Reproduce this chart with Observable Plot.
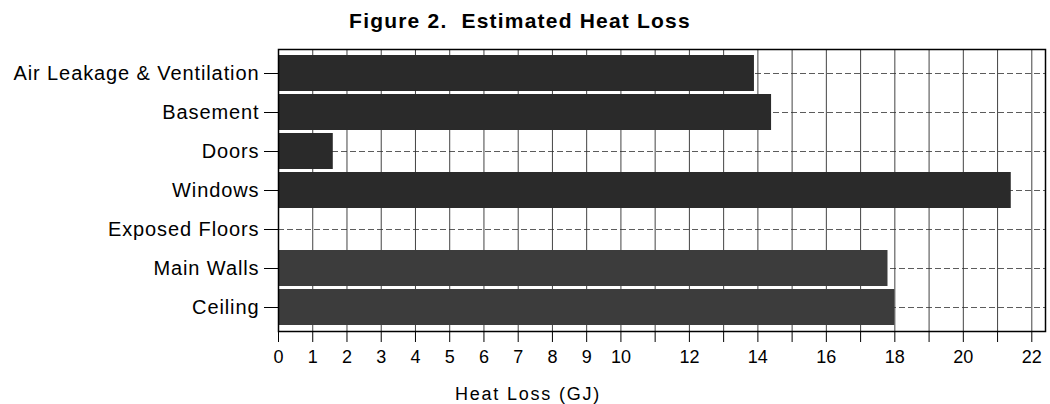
<!DOCTYPE html>
<html>
<head>
<meta charset="utf-8">
<script src="https://cdn.jsdelivr.net/npm/d3@7"></script>
<script src="https://cdn.jsdelivr.net/npm/@observablehq/plot@0.6"></script>
<style>
  html, body { margin: 0; padding: 0; background: #fff; overflow: hidden; }
  body { position: relative; width: 1050px; height: 404px; font-family: "Liberation Sans", Arial, sans-serif; color: #000; }
  #title { position: absolute; top: 10px; left: 520px; transform: translateX(-50%); white-space: nowrap;
           font-size: 21px; line-height: 21px; font-weight: bold; letter-spacing: 1.2px; }
  #chart { position: absolute; top: 40px; left: 0; }
  #xlabel { position: absolute; top: 385px; left: 528px; transform: translateX(-50%); white-space: nowrap;
            font-size: 18px; line-height: 18px; letter-spacing: 1.8px; }
  #chart g[aria-label="y-axis tick label"] text { letter-spacing: 0.9px; }
</style>
</head>
<body>
<div id="title">Figure 2.&nbsp; Estimated Heat Loss</div>
<div id="chart"></div>
<div id="xlabel">Heat Loss (GJ)</div>
<script>
// Data
const categories = ["Air Leakage & Ventilation", "Basement", "Doors", "Windows", "Exposed Floors", "Main Walls", "Ceiling"];
const values = [13.9, 14.4, 1.6, 21.4, 0, 17.8, 18.0];
const tickValues = [0,1,2,3,4,5,6,7,8,9,10,11,12,13,14,15,16,17,18,19,20,21,22];
const tickLabels = [0,1,2,3,4,5,6,7,8,9,10,12,14,16,18,20,22];

const data = categories.map((c, i) => ({category: c, value: values[i]}));
const lighter = new Set(["Main Walls", "Ceiling"]);

const chart = Plot.plot({
  width: 1050,
  height: 364,
  marginTop: 9,
  marginBottom: 73,
  marginLeft: 278,
  marginRight: 5,
  style: {fontFamily: "'Liberation Sans', Arial, sans-serif", background: "#fff", color: "#000"},
  x: {domain: [0, 22.4]},
  y: {domain: categories, padding: 0.08},
  marks: [
    Plot.gridX(tickValues, {stroke: "#222", strokeOpacity: 0.85, strokeWidth: 1}),
    Plot.gridY(categories, {stroke: "#333", strokeOpacity: 0.8, strokeDasharray: "6,3"}),
    Plot.barX(data, {x: "value", y: "category", fill: d => lighter.has(d.category) ? "#3c3c3c" : "#2a2a2a"}),
    Plot.frame({stroke: "#000", strokeWidth: 1.5}),
    Plot.axisX({ticks: tickValues, tickFormat: d => tickLabels.includes(d) ? String(d) : "",
                tickSize: 11, tickPadding: 8, fontSize: 18, label: null}),
    Plot.axisY({tickSize: 14, tickPadding: 5, fontSize: 20, label: null})
  ]
});
document.getElementById("chart").appendChild(chart);
</script>
</body>
</html>
